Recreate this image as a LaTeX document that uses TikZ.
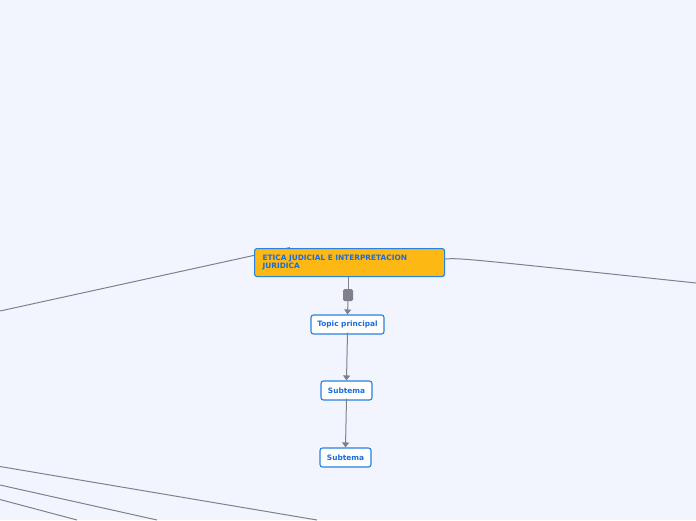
\documentclass[tikz,border=0pt]{standalone}
\usepackage{fontspec}
\setmainfont{DejaVu Sans}
\usetikzlibrary{arrows.meta}
\definecolor{bgc}{RGB}{242,245,254}
\definecolor{orangec}{RGB}{253,184,19}
\definecolor{bluec}{RGB}{40,128,228}
\definecolor{textc}{RGB}{26,108,222}
\definecolor{linec}{RGB}{128,128,140}
\tikzset{
  topicbox/.style={draw=bluec, line width=1.1pt, rounded corners=2.5pt, fill=white, text=textc,
    font=\bfseries\fontsize{7.4}{8}\selectfont, inner sep=0pt},
  mainbox/.style={draw=bluec, line width=1.1pt, rounded corners=2.5pt, fill=orangec, text=textc,
    font=\bfseries\fontsize{7.4}{8}\selectfont, inner sep=0pt},
  conn/.style={draw=linec, line width=1pt},
  arr/.style={conn, -{Triangle[length=5pt,width=7pt]}},
}
\begin{document}
\begin{tikzpicture}[x=1pt,y=-1pt]
\fill[bgc] (0,0) rectangle (696,520);
\useasboundingbox (0,0) rectangle (696,520);

% free ends
\coordinate (lend) at (0,311);
\coordinate (rend) at (696,283);
\coordinate (b1) at (0,466.5);
\coordinate (b1e) at (317,520);
\coordinate (b2) at (0,485);
\coordinate (b2e) at (157,520);
\coordinate (b3) at (0,499.5);
\coordinate (b3e) at (77,520);
\coordinate (ltop) at (290,247.5);

\draw[conn] (ltop) -- (lend);
\draw[conn] (b1) -- (b1e);
\draw[conn] (b2) -- (b2e);
\draw[conn] (b3) -- (b3e);

% main topic
\node[mainbox, minimum width=190pt, minimum height=28pt, anchor=north west, text width=174pt, align=left] (main) at (254,248) {ETICA JUDICIAL E INTERPRETACION\\JURIDICA};
\draw[conn] (main.east |- 0,259) .. controls (460,258) .. (rend);

% subnodes
\node[topicbox, minimum width=73pt, minimum height=19pt] (topic) at (347.5,324.5) {Topic principal};
\node[topicbox, minimum width=51pt, minimum height=19pt] (sub1) at (346.5,390.5) {Subtema};
\node[topicbox, minimum width=51pt, minimum height=19pt] (sub2) at (345.5,457.5) {Subtema};

% collapse handle
\node[fill=linec, rounded corners=1.5pt, minimum width=10pt, minimum height=12pt, inner sep=0pt] (handle) at (348,295) {};
\draw[conn] (main.south -| handle) -- (handle.north);
\draw[arr] (handle.south) -- (topic.north);
\draw[arr] ([yshift=2pt]topic.south) -- (sub1.north);
\draw[arr] ([yshift=2pt]sub1.south) -- (sub2.north);
\end{tikzpicture}
\end{document}
